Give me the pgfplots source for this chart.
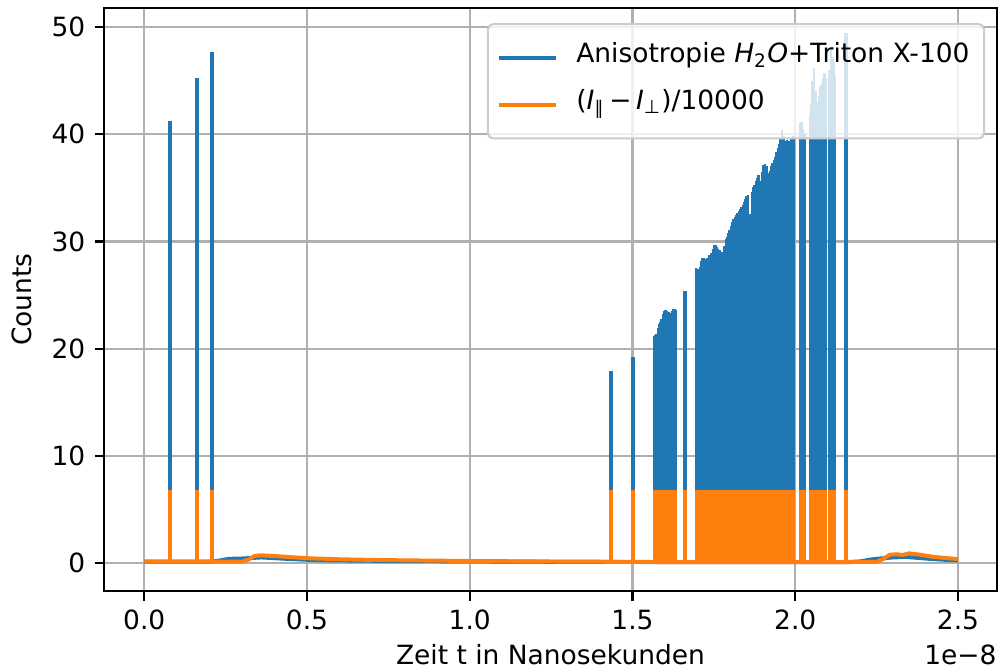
\documentclass[border=0pt]{standalone}
\usepackage{fontspec}
\setmainfont{DejaVu Sans}
\usepackage{pgfplots}
\pgfplotsset{compat=1.18}
\usepackage{pgfplotstable}

\definecolor{tabblue}{HTML}{1F77B4}
\definecolor{taborange}{HTML}{FF7F0E}
\definecolor{gridgray}{HTML}{B0B0B0}

% time in units of 1e-8 s
\pgfplotstableread{
t aniso
0.000 0.15
0.200 0.15
0.230 0.25
0.260 0.42
0.300 0.45
0.330 0.50
0.360 0.55
0.400 0.48
0.450 0.40
0.500 0.33
0.600 0.27
0.700 0.24
0.800 0.21
1.000 0.18
1.200 0.15
1.400 0.13
1.600 0.12
2.160 0.12
2.200 0.18
2.230 0.35
2.260 0.45
2.300 0.55
2.340 0.60
2.380 0.50
2.420 0.40
2.460 0.33
2.500 0.28
}\baseA

\pgfplotstableread{
t diff
0.000 0.15
0.300 0.15
0.320 0.35
0.340 0.70
0.360 0.75
0.400 0.68
0.450 0.58
0.500 0.48
0.600 0.38
0.700 0.32
0.800 0.28
1.000 0.22
1.200 0.18
1.400 0.15
1.600 0.12
2.160 0.12
2.250 0.14
2.270 0.40
2.290 0.80
2.310 0.85
2.330 0.78
2.350 0.93
2.380 0.82
2.420 0.62
2.460 0.50
2.500 0.40
}\baseB

% isolated peaks
\pgfplotstableread{
t aniso diff
0.080 41.2 6.8
0.162 45.2 6.8
0.208 47.7 6.8
1.433 17.9 6.8
1.502 19.2 6.8
1.662 25.4 6.8
2.155 49.4 6.8
}\spikes

% densely oscillating sections
\pgfplotstableread{
t aniso diff
1.566 21.2 6.8
1.570 21.3 6.8
1.574 21.4 6.8
1.578 21.9 6.8
1.582 22.3 6.8
1.586 22.5 6.8
1.590 22.8 6.8
1.594 23.2 6.8
1.598 23.5 6.8
1.602 23.6 6.8
1.606 23.5 6.8
1.610 23.4 6.8
1.614 23.3 6.8
1.618 23.0 6.8
1.622 23.5 6.8
1.626 23.7 6.8
1.630 23.7 6.8
1.634 23.6 6.8
1.695 27.5 6.8
1.699 27.4 6.8
1.703 27.3 6.8
1.707 27.6 6.8
1.711 28.2 6.8
1.715 28.5 6.8
1.719 28.5 6.8
1.723 28.3 6.8
1.727 28.4 6.8
1.731 28.5 6.8
1.735 28.7 6.8
1.739 28.7 6.8
1.743 28.9 6.8
1.747 29.3 6.8
1.751 29.7 6.8
1.755 29.7 6.8
1.759 29.5 6.8
1.763 29.3 6.8
1.767 29.2 6.8
1.771 29.0 6.8
1.775 28.9 6.8
1.779 29.0 6.8
1.783 29.6 6.8
1.787 30.2 6.8
1.791 30.4 6.8
1.795 30.8 6.8
1.799 31.1 6.8
1.803 31.4 6.8
1.807 31.8 6.8
1.811 32.1 6.8
1.815 32.3 6.8
1.819 32.5 6.8
1.823 32.7 6.8
1.827 32.8 6.8
1.831 33.0 6.8
1.835 33.2 6.8
1.839 33.4 6.8
1.843 33.7 6.8
1.847 34.0 6.8
1.851 34.2 6.8
1.855 34.3 6.8
1.859 32.6 6.8
1.863 32.5 6.8
1.867 34.6 6.8
1.871 35.1 6.8
1.875 35.3 6.8
1.879 35.6 6.8
1.883 35.9 6.8
1.887 36.2 6.8
1.891 35.6 6.8
1.895 35.4 6.8
1.899 36.5 6.8
1.903 37.1 6.8
1.907 37.2 6.8
1.911 37.0 6.8
1.915 36.4 6.8
1.919 36.2 6.8
1.923 36.6 6.8
1.927 37.0 6.8
1.931 37.3 6.8
1.935 37.6 6.8
1.939 37.9 6.8
1.943 38.3 6.8
1.947 38.7 6.8
1.951 39.1 6.8
1.955 39.6 6.8
1.959 40.4 6.8
1.963 39.8 6.8
1.967 39.4 6.8
1.971 39.4 6.8
1.975 39.5 6.8
1.979 39.4 6.8
1.983 39.4 6.8
1.987 39.6 6.8
1.991 39.7 6.8
1.995 39.8 6.8
2.016 41.0 6.8
2.020 41.1 6.8
2.024 40.5 6.8
2.028 40.0 6.8
2.046 41.8 6.8
2.050 42.9 6.8
2.054 45.0 6.8
2.058 46.2 6.8
2.062 44.0 6.8
2.066 43.0 6.8
2.070 42.8 6.8
2.074 43.6 6.8
2.078 44.5 6.8
2.082 44.8 6.8
2.086 45.2 6.8
2.090 45.7 6.8
2.094 45.2 6.8
2.106 46.0 6.8
2.110 47.9 6.8
2.114 47.2 6.8
2.117 46.6 6.8
2.120 45.5 6.8
}\blocks

\begin{document}
\begin{tikzpicture}
\begin{axis}[
  scale only axis,
  width=337.4pt, height=220.4pt,
  xmin=-0.124, xmax=2.620,
  ymin=-2.61, ymax=51.77,
  xtick={0,0.5,1,1.5,2,2.5},
  xticklabels={0.0,0.5,1.0,1.5,2.0,2.5},
  ytick={0,10,20,30,40,50},
  yticklabels={0,10,20,30,40,50},
  tick pos=left, tick align=outside,
  major tick length=3.5pt,
  every tick/.style={black, line width=0.8pt},
  axis line style={line width=0.8pt},
  grid=major,
  major grid style={gridgray, line width=0.8pt},
  tick label style={font=\fontsize{10}{12}\selectfont},
  label style={font=\fontsize{10}{12}\selectfont},
  xlabel={Zeit t in Nanosekunden},
  ylabel={Counts},
  every axis x label/.style={at={(axis description cs:0.5,0)}, anchor=base, yshift=-27.7pt},
  every axis y label/.style={at={([xshift=-27.3pt]axis description cs:0,0.5)}, rotate=90, anchor=base},
  legend style={
    at={(1,1)}, anchor=north east, xshift=-4.5pt, yshift=-5.7pt,
    draw=black!20, line width=0.8pt, rounded corners=2pt,
    fill=white, fill opacity=0.8, text opacity=1,
    inner xsep=3.5pt, inner ysep=5pt, row sep=2.2pt, column sep=5pt,
    cells={anchor=west},
    nodes={inner sep=2pt, text height=7.5pt, text depth=4pt},
    font=\fontsize{10}{12}\selectfont
  },
  legend image code/.code={\draw[#1, line width=1.5pt] (0pt,0pt) -- (21.4pt,0pt);},
]
\addlegendimage{tabblue}
\addlegendentry{Anisotropie \textit{H}\textsubscript{2}\textit{O}+Triton X-100}
\addlegendimage{taborange}
\addlegendentry{(\textit{I}\textsubscript{∥}\,−\,\textit{I}\textsubscript{⊥})/10000}

% anisotropy signal
\addplot[tabblue, line width=1.5pt, forget plot] table[x=t, y=aniso] {\baseA};
\addplot[ycomb, tabblue, line width=1.6pt, forget plot] table[x=t, y=aniso] {\spikes};
\addplot[ycomb, tabblue, line width=1pt, forget plot] table[x=t, y=aniso] {\blocks};

% scaled intensity difference
\addplot[taborange, line width=1.5pt, forget plot] table[x=t, y=diff] {\baseB};
\addplot[ycomb, taborange, line width=1.6pt, forget plot] table[x=t, y=diff] {\spikes};
\addplot[ycomb, taborange, line width=1pt, forget plot] table[x=t, y=diff] {\blocks};

\coordinate (sw) at (rel axis cs:0,0);
\coordinate (se) at (rel axis cs:1,0);
\coordinate (ne) at (rel axis cs:1,1);
\end{axis}
\node[anchor=base east, font=\fontsize{10}{12}\selectfont, inner sep=0pt] at ([yshift=-27.7pt]se) {1e−8};
\pgfresetboundingbox
\path ([shift={(-39.25pt,-30.2pt)}]sw) rectangle ([shift={(0.75pt,3pt)}]ne);
\end{tikzpicture}
\end{document}
